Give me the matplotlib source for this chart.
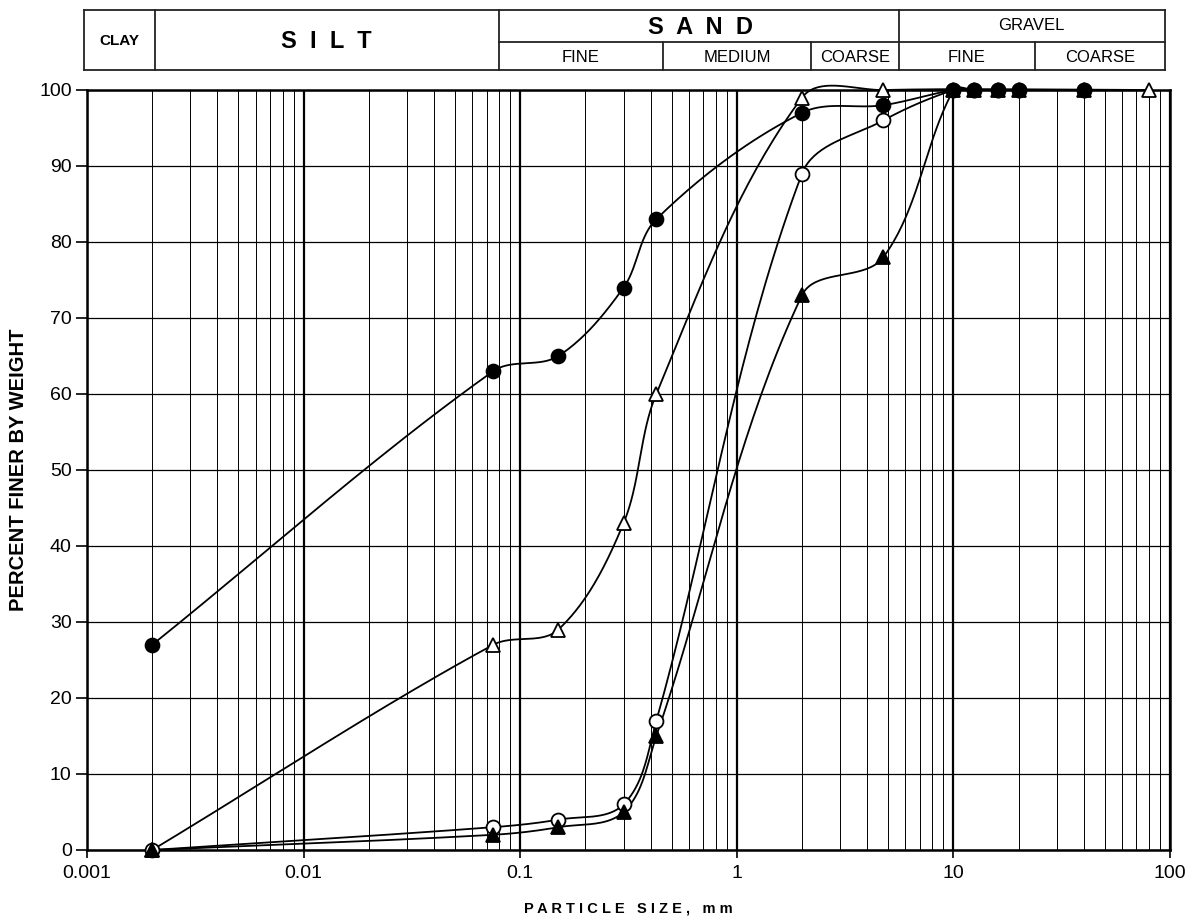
import numpy as np
import matplotlib
matplotlib.use("Agg")
import matplotlib.pyplot as plt
from matplotlib import font_manager
from matplotlib.lines import Line2D

# sieve sizes (mm) and percent finer for each sample
sizes = [0.002, 0.075, 0.15, 0.3, 0.425, 2.0, 4.75, 10, 12.5, 16, 20, 40]
filled_circle = [27, 63, 65, 74, 83, 97, 98, 100, 100, 100, 100, 100]
open_circle = [0, 3, 4, 6, 17, 89, 96, 100, 100, 100, 100, 100]
filled_triangle = [0, 2, 3, 5, 15, 73, 78, 100, 100, 100, 100, 100]
tri_sizes = [0.002, 0.075, 0.15, 0.3, 0.425, 2.0, 4.75, 80]
open_triangle = [0, 27, 29, 43, 60, 99, 100, 100]

x_ticks = [0.001, 0.01, 0.1, 1, 10, 100]
x_ticklabels = ["0.001", "0.01", "0.1", "1", "10", "100"]
y_ticks = list(range(0, 101, 10))

avail = {f.name for f in font_manager.fontManager.ttflist}
main_font = "Liberation Sans" if "Liberation Sans" in avail else "DejaVu Sans"
plt.rcParams["font.family"] = main_font

FW, FH = 1192, 924
fig = plt.figure(figsize=(FW / 100, FH / 100), dpi=100)

L, R, T, B = 87, 1170, 90, 850
ax = fig.add_axes([L / FW, 1 - B / FH, (R - L) / FW, (B - T) / FH])
W, H = R - L, B - T


def smooth(xs, ys, n=40):
    # smoothed line through the points (Bezier, tangents scaled by segment length)
    u = (np.log10(xs) + 3) / 5 * W
    v = np.asarray(ys, float) / 100 * H
    P = np.column_stack([u, v])

    def tangent(i):
        a = P[max(i - 1, 0)]
        b = P[min(i + 1, len(P) - 1)]
        d = b - a
        return d / np.hypot(*d)

    out = []
    for i in range(len(P) - 1):
        p1, p2 = P[i], P[i + 1]
        seg = np.hypot(*(p2 - p1))
        c1 = p1 + tangent(i) * seg / 3
        c2 = p2 - tangent(i + 1) * seg / 3
        t = np.linspace(0, 1, n)[:, None]
        pts = (1 - t) ** 3 * p1 + 3 * (1 - t) ** 2 * t * c1 + 3 * (1 - t) * t ** 2 * c2 + t ** 3 * p2
        out.append(pts if i == 0 else pts[1:])
    out = np.vstack(out)
    return 10 ** (out[:, 0] / W * 5 - 3), out[:, 1] / H * 100


series = [
    (tri_sizes, open_triangle, "^", "white"),
    (sizes, open_circle, "o", "white"),
    (sizes, filled_triangle, "^", "black"),
    (sizes, filled_circle, "o", "black"),
]
for xs, ys, mk, fc in series:
    sx, sy = smooth(xs, ys)
    ax.plot(sx, sy, color="black", lw=1.3, clip_on=False, zorder=3)
    ax.plot(xs, ys, ls="none", marker=mk, ms=10, mfc=fc, mec="black", mew=1.3,
            clip_on=False, zorder=4)

ax.set_xscale("log")
ax.set_xlim(0.001, 100)
ax.set_ylim(0, 100)
ax.set_xticks(x_ticks)
ax.set_xticklabels(x_ticklabels)
ax.set_yticks(y_ticks)
ax.xaxis.set_minor_locator(matplotlib.ticker.LogLocator(base=10, subs=np.arange(2, 10)))
ax.xaxis.set_minor_formatter(matplotlib.ticker.NullFormatter())
ax.tick_params(axis="x", which="minor", length=0)
ax.tick_params(axis="x", which="major", length=6, width=1.2, labelsize=14, pad=5)
ax.tick_params(axis="y", which="major", length=8, width=1.2, labelsize=14, pad=3)
ax.grid(which="minor", axis="x", color="black", lw=0.7)
ax.grid(which="major", axis="x", color="black", lw=1.6)
ax.grid(which="major", axis="y", color="black", lw=0.9)
ax.set_axisbelow(True)
for s in ax.spines.values():
    s.set_linewidth(1.8)

ax.set_ylabel("PERCENT FINER BY WEIGHT", fontsize=14.5, fontweight="bold", labelpad=8)
ax.set_xlabel("P A R T I C L E   S I Z E ,   m m", fontsize=10.5, fontweight="bold", labelpad=14)


# header classification table (pixel coordinates)
def fx(x):
    return x / FW


def fy(y):
    return 1 - y / FH


def hline(x0, x1, y):
    fig.add_artist(Line2D([fx(x0), fx(x1)], [fy(y), fy(y)], color="#222222", lw=1.3))


def vline(x, y0, y1):
    fig.add_artist(Line2D([fx(x), fx(x)], [fy(y0), fy(y1)], color="#222222", lw=1.3))


hx0, hx1, hy0, hy1, hmid = 84, 1165, 10, 70, 42
hline(hx0, hx1, hy0)
hline(hx0, hx1, hy1)
hline(499, hx1, hmid)
for x in [hx0, 155, 499, 899, hx1]:
    vline(x, hy0, hy1)
for x in [663, 811, 1035]:
    vline(x, hmid, hy1)


def htext(x, y, s, size, bold=False):
    fig.text(fx(x), fy(y), s, ha="center", va="center", fontsize=size,
             fontweight="bold" if bold else "normal")


htext(119, 41, "CLAY", 11, True)
htext(326, 41, "S  I  L  T", 17, True)
htext(700, 27, "S  A  N  D", 17, True)
htext(581, 57, "FINE", 12)
htext(737, 57, "MEDIUM", 12)
htext(855, 57, "COARSE", 12)
htext(1031, 26, "GRAVEL", 12)
htext(967, 57, "FINE", 12)
htext(1100, 57, "COARSE", 12)

fig.savefig("out.png", dpi=100)
